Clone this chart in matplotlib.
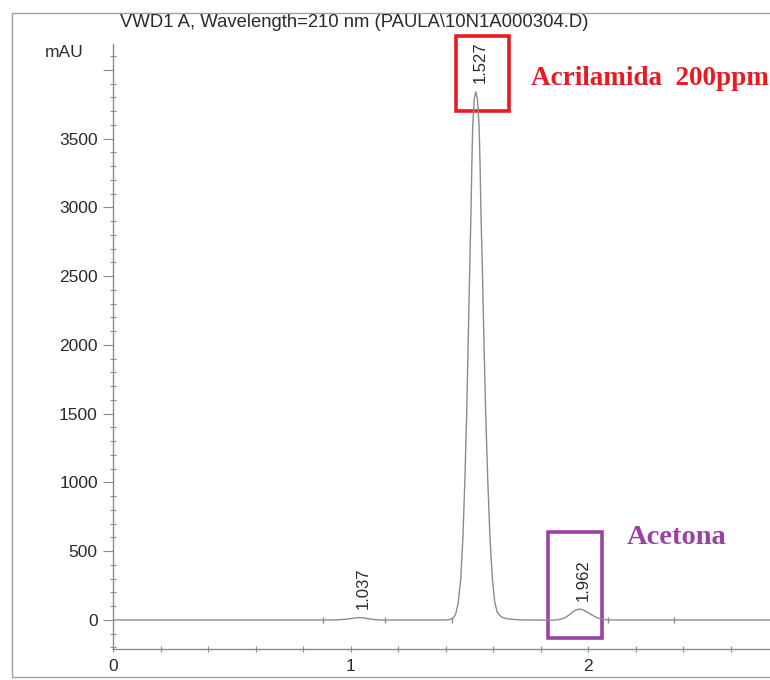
import matplotlib.pyplot as plt
from matplotlib.patches import Rectangle
from matplotlib.ticker import MultipleLocator

# trace (time in min, signal in mAU)
times = [0.00, 0.90, 0.94, 0.98, 1.00, 1.02, 1.037, 1.055, 1.075, 1.10, 1.13,
         1.40, 1.420, 1.430, 1.442, 1.453, 1.464, 1.473, 1.481, 1.489, 1.495,
         1.501, 1.5075, 1.5105, 1.5145, 1.521, 1.527, 1.534, 1.541, 1.5455,
         1.5485, 1.5556, 1.562, 1.569, 1.578, 1.587, 1.597, 1.607, 1.618, 1.635,
         1.66, 1.70, 1.75, 1.85, 1.88, 1.90, 1.92, 1.94, 1.962, 1.98, 2.00,
         2.02, 2.04, 2.06, 2.09, 2.77]
signal = [0, 0, 1, 5, 10, 15, 17, 15, 9, 3, 0,
          0, 4, 10, 40, 120, 300, 600, 1000, 1500, 2000,
          2500, 3000, 3300, 3600, 3790, 3840, 3790, 3600, 3300,
          3000, 2500, 2000, 1500, 1000, 600, 300, 130, 55, 22,
          8, 2, 0, -2, 4, 13, 36, 64, 80, 73, 54,
          32, 15, 5, 0, 0]

peak_rts = [1.037, 1.527, 1.962]
peak_heights = [17, 3840, 80]
event_times = [0.884, 1.145, 1.427, 2.084, 2.362]

title = "VWD1 A, Wavelength=210 nm (PAULA\\10N1A000304.D)"
grey = "#8c8c8c"
txt = "#2a2a2a"

plt.rcParams['font.family'] = ['Liberation Sans', 'DejaVu Sans']

fig = plt.figure(figsize=(7.7, 6.8), dpi=100)
ax = fig.add_axes([0.1468, 0.0456, 0.8532, 0.8894])

ax.plot(times, signal, color=grey, lw=1.0)
ax.vlines(event_times, -25, 25, color=grey, lw=1.0)

ax.set_xlim(0, 2.766)
ax.set_ylim(-211, 4186)

for s in ['top', 'right']:
    ax.spines[s].set_visible(False)
for s in ['left', 'bottom']:
    ax.spines[s].set_color(grey)
    ax.spines[s].set_linewidth(1.0)

ax.yaxis.set_minor_locator(MultipleLocator(100))
ax.xaxis.set_minor_locator(MultipleLocator(0.2))
ax.tick_params(axis='y', which='major', direction='out', length=7, width=0.8,
               color=grey, labelsize=12.5, labelcolor=txt, pad=4)
ax.tick_params(axis='y', which='minor', direction='inout', length=4, width=0.8, color=grey)
ax.tick_params(axis='x', which='both', direction='inout', length=4, width=0.8,
               color=grey, labelsize=12.5, labelcolor=txt, pad=5)
yt = [0, 500, 1000, 1500, 2000, 2500, 3000, 3500, 4000]
ax.set_yticks(yt, [str(v) if v < 4000 else "" for v in yt])
ax.set_yticks([v for v in range(-200, 4200, 100)], minor=True)
ax.set_xticks([0, 1, 2])

# retention time labels above each peak
for rt, h in zip(peak_rts, peak_heights):
    ax.annotate(f"{rt:.3f}", xy=(rt, h), xytext=(3, 6), textcoords='offset points',
                rotation=90, ha='center', va='bottom', fontsize=12, color=txt)

fig.text(0.156, 0.9676, title, fontsize=13.3, color=txt, va='center', ha='left')
fig.text(0.058, 0.923, "mAU", fontsize=12.5, color=txt, va='center', ha='left')

# outer frame of the scanned page
fig.patches.append(Rectangle((0.0156, 0.0044), 1.2, 0.9765, transform=fig.transFigure,
                             fill=False, edgecolor="#a0a0a0", lw=1.0))

# highlight boxes and names
ax.add_patch(Rectangle((1.444, 3699), 0.223, 545, fill=False, edgecolor="#e81b23",
                       lw=2.6, clip_on=False))
ax.add_patch(Rectangle((1.832, -131), 0.227, 771, fill=False, edgecolor="#9b41a6",
                       lw=2.6, clip_on=False))
ax.text(1.76, 3939, "Acrilamida  200ppm", fontsize=19.5, fontweight='bold',
        family='Liberation Serif', color="#e81b23", va='center', ha='left')
ax.text(2.164, 596, "Acetona", fontsize=20.5, fontweight='bold',
        family='Liberation Serif', color="#9b41a6", va='center', ha='left')

fig.savefig("out.png", dpi=100)
